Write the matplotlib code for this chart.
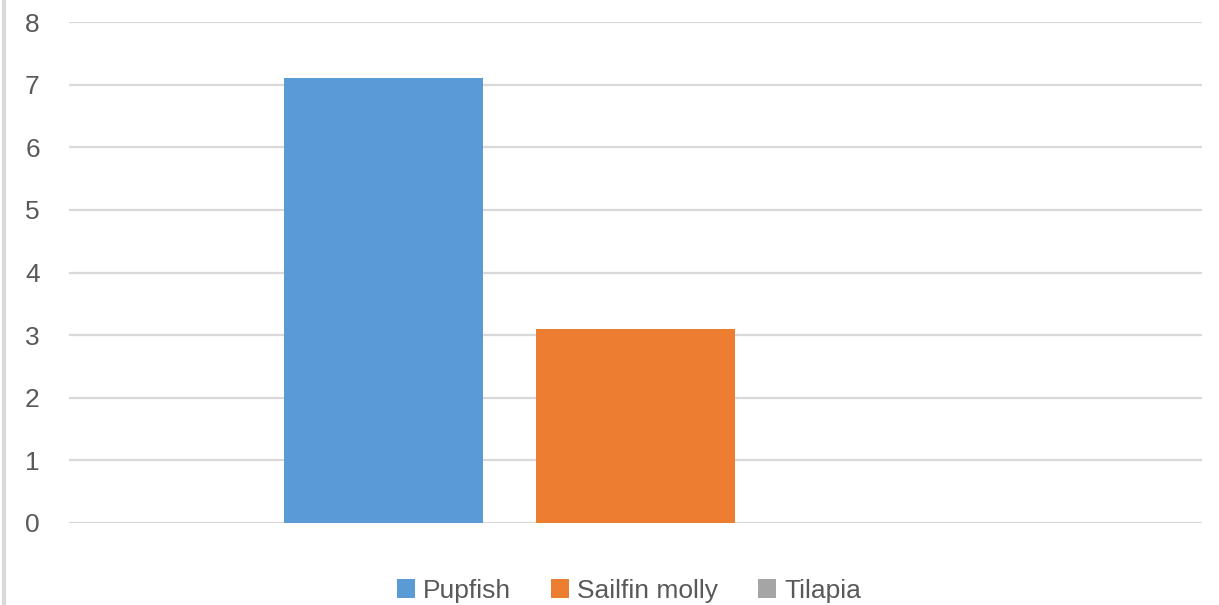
import matplotlib
matplotlib.use("Agg")
from matplotlib import pyplot as plt
from matplotlib.lines import Line2D

# data
series = ["Pupfish", "Sailfin molly", "Tilapia"]
values = [7.1, 3.1, 0]
colors = ["#5b9bd5", "#ed7d31", "#a5a5a5"]
yticks = [0, 1, 2, 3, 4, 5, 6, 7, 8]

plt.rcParams['font.family'] = ['Liberation Sans', 'DejaVu Sans']

fig = plt.figure(figsize=(12.19, 6.05), dpi=100)
ax = fig.add_axes([69/1219, 82/605, (1202-69)/1219, (523-22)/605])

# one category, three clustered bars
step = 0.2224
width = 0.1748
offsets = [-step, 0, step]
for name, v, c, off in zip(series, values, colors, offsets):
    ax.bar(off, v, width=width, color=c, label=name, zorder=3)

ax.set_xlim(-0.5, 0.5)
ax.set_ylim(0, 8)
ax.set_yticks(yticks)
ax.set_xticks([])
ax.yaxis.grid(True, color="#d9d9d9", linewidth=1.6, zorder=0)
ax.tick_params(axis='y', length=0, pad=21, labelsize=19, labelcolor="#595959")
for s in ax.spines.values():
    s.set_visible(False)
ax.set_axisbelow(True)

leg = ax.legend(loc="center", bbox_to_anchor=(0.494, -0.135), ncol=3, frameon=False,
                fontsize=19, labelcolor="#595959", handlelength=0.7, handleheight=0.7,
                handletextpad=0.3, columnspacing=1.5)

# thin grey frame line on the left edge
fig.add_artist(Line2D([4/1219, 4/1219], [0, 1], color="#d9d9d9", linewidth=3,
                      transform=fig.transFigure))

fig.savefig("out.png", dpi=100)
